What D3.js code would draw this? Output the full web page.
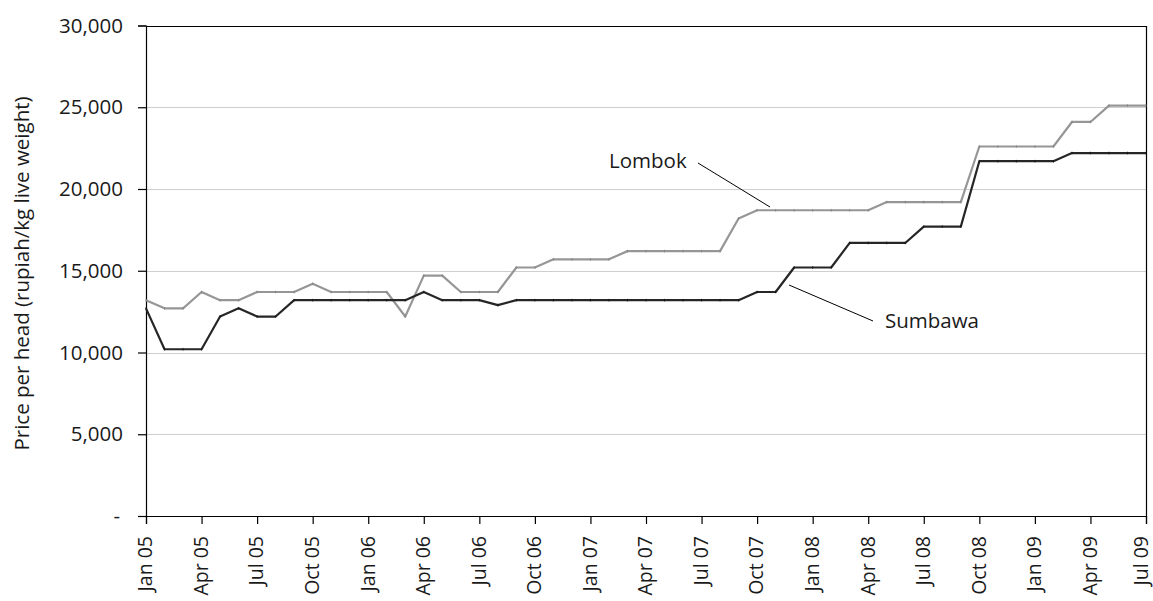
<!DOCTYPE html>
<html>
<head>
<meta charset="utf-8">
<script src="https://cdn.jsdelivr.net/npm/d3@7"></script>
<style>
  html, body { margin: 0; padding: 0; background: #fff; }
  svg { display: block; font-family: "Open Sans", "Noto Sans", sans-serif; }
</style>
</head>
<body>
<svg id="chart" width="1153" height="601"></svg>
<script>
// ---- data ----
const months = [
  "Jan 05","Feb 05","Mar 05","Apr 05","May 05","Jun 05","Jul 05","Aug 05","Sep 05","Oct 05","Nov 05","Dec 05",
  "Jan 06","Feb 06","Mar 06","Apr 06","May 06","Jun 06","Jul 06","Aug 06","Sep 06","Oct 06","Nov 06","Dec 06",
  "Jan 07","Feb 07","Mar 07","Apr 07","May 07","Jun 07","Jul 07","Aug 07","Sep 07","Oct 07","Nov 07","Dec 07",
  "Jan 08","Feb 08","Mar 08","Apr 08","May 08","Jun 08","Jul 08","Aug 08","Sep 08","Oct 08","Nov 08","Dec 08",
  "Jan 09","Feb 09","Mar 09","Apr 09","May 09","Jun 09","Jul 09"
];
const lombok = [
  13200,12700,12700,13700,13200,13200,13700,13700,13700,14200,13700,13700,
  13700,13700,12200,14700,14700,13700,13700,13700,15200,15200,15700,15700,
  15700,15700,16200,16200,16200,16200,16200,16200,18200,18700,18700,18700,
  18700,18700,18700,18700,19200,19200,19200,19200,19200,22600,22600,22600,
  22600,22600,24100,24100,25100,25100,25100
];
const sumbawa = [
  12700,10200,10200,10200,12200,12700,12200,12200,13200,13200,13200,13200,
  13200,13200,13200,13700,13200,13200,13200,12900,13200,13200,13200,13200,
  13200,13200,13200,13200,13200,13200,13200,13200,13200,13700,13700,15200,
  15200,15200,16700,16700,16700,16700,17700,17700,17700,21700,21700,21700,
  21700,21700,22200,22200,22200,22200,22200
];
const xTickLabels = ["Jan 05","Apr 05","Jul 05","Oct 05","Jan 06","Apr 06","Jul 06","Oct 06",
  "Jan 07","Apr 07","Jul 07","Oct 07","Jan 08","Apr 08","Jul 08","Oct 08","Jan 09","Apr 09","Jul 09"];
const yTickValues = [0, 5000, 10000, 15000, 20000, 25000, 30000];
const yTitle = "Price per head (rupiah/kg live weight)";
const seriesNames = ["Lombok", "Sumbawa"];

// ---- layout ----
const mLeft = 146, mRight = 1146, mTop = 25.5, mBottom = 516;
const fontSize = 20.5;
const xFontSize = 19.5;
const svg = d3.select("#chart");

const x = d3.scalePoint().domain(months).range([mLeft, mRight]);
const y = d3.scaleLinear().domain([0, 30000]).range([mBottom, mTop]);

// gridlines
svg.append("g")
  .selectAll("line")
  .data(yTickValues.filter(v => v > 0 && v < 30000))
  .join("line")
  .attr("x1", mLeft).attr("x2", mRight)
  .attr("y1", d => Math.round(y(d)) + 0.5).attr("y2", d => Math.round(y(d)) + 0.5)
  .attr("stroke", "#cfcfcf").attr("stroke-width", 1.2);

// plot frame (top & right)
svg.append("path")
  .attr("d", `M${mLeft},${Math.round(mTop)+0.5}H${mRight+0.5}V${mBottom}`)
  .attr("fill", "none").attr("stroke", "#000").attr("stroke-width", 1.2);

// y axis
const yAxis = d3.axisLeft(y)
  .tickValues(yTickValues)
  .tickSize(8)
  .tickPadding(15)
  .tickFormat(d => d === 0 ? "-" : d3.format(",")(d));
const gy = svg.append("g").attr("transform", `translate(${mLeft},0)`).call(yAxis);
gy.select(".domain").attr("stroke", "#000").attr("stroke-width", 1.2);
gy.selectAll(".tick line").attr("stroke", "#000").attr("stroke-width", 1.2);
gy.selectAll(".tick text")
  .attr("font-size", fontSize).attr("fill", "#1a1a1a")
  .attr("font-family", "'Open Sans', sans-serif")
  .attr("dx", d => d === 0 ? -3 : 0);

// x axis
const xAxis = d3.axisBottom(x).tickValues(xTickLabels).tickSize(8);
const gx = svg.append("g").attr("transform", `translate(0,${mBottom})`).call(xAxis);
gx.select(".domain").attr("stroke", "#000").attr("stroke-width", 1.2);
gx.selectAll(".tick line").attr("stroke", "#000").attr("stroke-width", 1.2);
gx.selectAll(".tick text")
  .attr("font-size", xFontSize).attr("fill", "#1a1a1a")
  .attr("font-family", "'Open Sans', sans-serif")
  .attr("text-anchor", "end")
  .attr("transform", "rotate(-90)")
  .attr("x", -20).attr("y", 0)
  .attr("dy", (d, i, n) => i === n.length - 1 ? "0.08em" : "0.3em");

// y title
svg.append("text")
  .attr("transform", `translate(29,273.5) rotate(-90)`)
  .attr("text-anchor", "middle")
  .attr("font-size", fontSize).attr("fill", "#1a1a1a")
  .text(yTitle);

// lines
const line = d3.line().x((d, i) => x(months[i])).y(d => y(d));
const series = [
  { name: seriesNames[0], values: lombok, color: "#969696", mark: "#808080" },
  { name: seriesNames[1], values: sumbawa, color: "#262626", mark: "#111" }
];
series.forEach(s => {
  svg.append("path")
    .datum(s.values)
    .attr("fill", "none")
    .attr("stroke", s.color)
    .attr("stroke-width", 2.2)
    .attr("stroke-linejoin", "round")
    .attr("d", line);
  svg.append("g").selectAll("line")
    .data(s.values)
    .join("line")
    .attr("x1", (d, i) => x(months[i])).attr("x2", (d, i) => x(months[i]))
    .attr("y1", d => y(d) - 1.3).attr("y2", d => y(d) + 1.3)
    .attr("stroke", s.mark).attr("stroke-width", 0.8);
});

// annotations
svg.append("line").attr("x1", 698).attr("y1", 163).attr("x2", 770).attr("y2", 207)
  .attr("stroke", "#000").attr("stroke-width", 1);
svg.append("text").attr("x", 609).attr("y", 168)
  .attr("font-size", fontSize).attr("fill", "#1a1a1a").text(seriesNames[0]);
svg.append("line").attr("x1", 789).attr("y1", 285).attr("x2", 873).attr("y2", 321)
  .attr("stroke", "#000").attr("stroke-width", 1);
svg.append("text").attr("x", 885).attr("y", 328)
  .attr("font-size", fontSize).attr("fill", "#1a1a1a").text(seriesNames[1]);
</script>
</body>
</html>
